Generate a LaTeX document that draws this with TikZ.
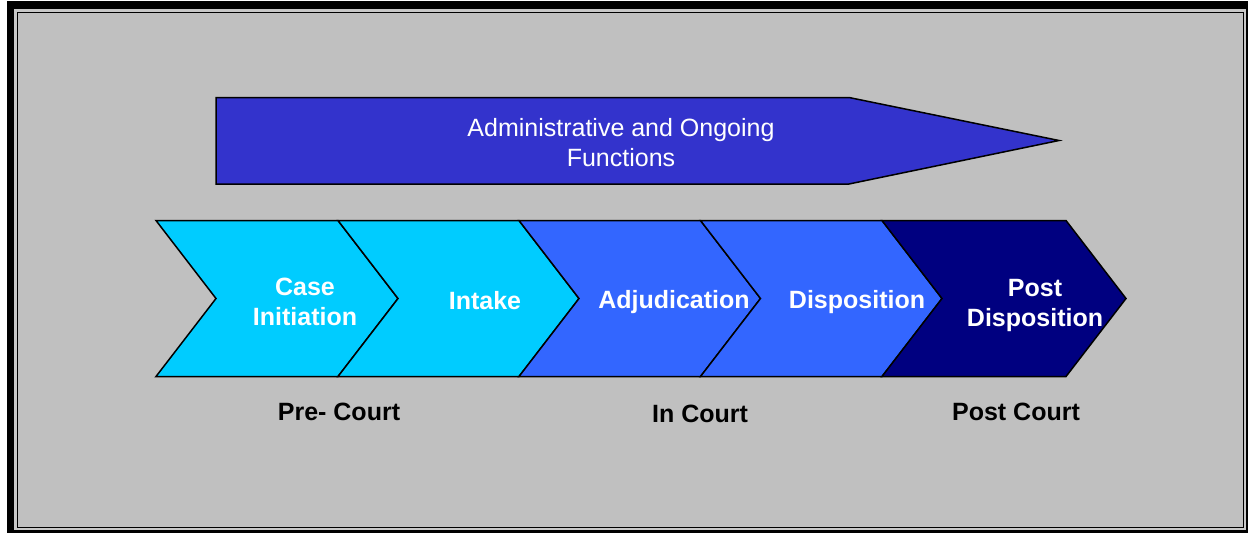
\documentclass[tikz,border=0pt]{standalone}
\usepackage{fontspec}
\setmainfont{Liberation Sans}
\definecolor{framegray}{HTML}{C0C0C0}
\definecolor{edgegray}{HTML}{C8C8C8}
\definecolor{topblue}{HTML}{3333CC}
\definecolor{lightcyan}{HTML}{00CCFF}
\definecolor{midblue}{HTML}{3366FF}
\definecolor{darknavy}{HTML}{000080}
\tikzset{
  phase/.style={draw=black, line width=1.5pt, line join=miter},
  phasetext/.style={text=white, font=\bfseries\fontsize{25}{30}\selectfont, align=center},
  courttext/.style={text=black, font=\bfseries\fontsize{25}{30}\selectfont}
}
\begin{document}
\begin{tikzpicture}[x=1pt, y=-1pt]
        % Frame
        \useasboundingbox (0,0) rectangle (1248,533);
        \fill[white] (0,0) rectangle (1248,533);
        \fill[black] (7,1) rectangle (1248,533);
        \fill[edgegray] (14,9) rectangle (1246,530);
        \draw[black, line width=1.5pt, fill=framegray] (17.5,12.5) rectangle (1243.5,527.5);

        % Top arrow
        \draw[phase, fill=topblue] (216,97.5) -- (849,97.5) -- (1059,140.5) -- (849,184) -- (216,184) -- cycle;
        \node (admin) [text=white, font=\fontsize{25}{30}\selectfont, align=center] at (621,143) {Administrative and Ongoing\\Functions};

        % Chevrons
        \draw[phase, fill=lightcyan] (156,220.5) -- (338,220.5) -- (398,298.5) -- (338,376.5) -- (156,376.5) -- (216,298.5) -- cycle;
        \draw[phase, fill=lightcyan] (338,220.5) -- (519,220.5) -- (579,298.5) -- (519,376.5) -- (338,376.5) -- (398,298.5) -- cycle;
        \draw[phase, fill=midblue] (519,220.5) -- (700.5,220.5) -- (760.5,298.5) -- (700.5,376.5) -- (519,376.5) -- (579,298.5) -- cycle;
        \draw[phase, fill=midblue] (700.5,220.5) -- (882,220.5) -- (942,298.5) -- (882,376.5) -- (700.5,376.5) -- (760.5,298.5) -- cycle;
        \draw[phase, fill=darknavy] (882,220.5) -- (1066,220.5) -- (1126,298.5) -- (1066,376.5) -- (882,376.5) -- (942,298.5) -- cycle;

        % Chevron labels
        \node (init) [phasetext] at (305,302) {Case\\Initiation};
        \node (intake) [phasetext] at (485,301) {Intake};
        \node (adjud) [phasetext] at (674,302) {Adjudication};
        \node (dispo) [phasetext] at (857,302) {Disposition};
        \node (postdispo) [phasetext] at (1035,305) {Post\\Disposition};

        % Court stages
        \node (precourt) [courttext] at (339,412) {Pre- Court};
        \node (incourt) [courttext] at (700,414) {In Court};
        \node (postcourt) [courttext] at (1016,412) {Post Court};
\end{tikzpicture}
\end{document}
